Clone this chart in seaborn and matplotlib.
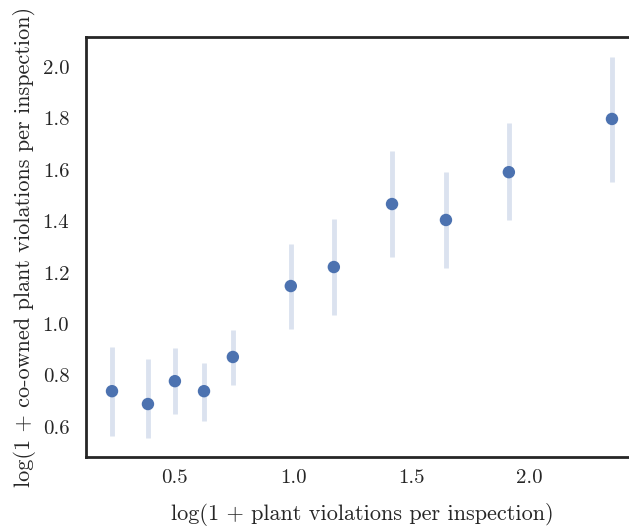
import matplotlib
matplotlib.use("Agg")
import matplotlib.pyplot as plt
import seaborn as sns
import pandas as pd

# Binned means of co-owned plant violations with confidence intervals
bin_centers = [0.234, 0.386, 0.500, 0.623, 0.745, 0.990, 1.172, 1.418, 1.646, 1.912, 2.348]
bin_means = [0.739, 0.689, 0.778, 0.739, 0.872, 1.148, 1.222, 1.467, 1.405, 1.591, 1.798]
ci_low = [0.564, 0.556, 0.650, 0.623, 0.763, 0.981, 1.035, 1.261, 1.218, 1.405, 1.553]
ci_high = [0.911, 0.864, 0.907, 0.848, 0.977, 1.311, 1.409, 1.673, 1.591, 1.782, 2.039]

x_ticks = [0.5, 1.0, 1.5, 2.0]
y_ticks = [0.6, 0.8, 1.0, 1.2, 1.4, 1.6, 1.8, 2.0]

sns.set_theme(style="white")
plt.rcParams["font.family"] = ["cmr10", "DejaVu Serif"]
plt.rcParams["mathtext.fontset"] = "cm"
plt.rcParams["axes.formatter.use_mathtext"] = True
plt.rcParams["axes.unicode_minus"] = False

df = pd.DataFrame({"x": bin_centers, "y": bin_means, "lo": ci_low, "hi": ci_high})

fig = plt.figure(figsize=(6.29, 5.28), dpi=100)
ax = fig.add_axes([0.1367, 0.1345, 0.8776, 0.7955])

color = sns.color_palette("deep")[0]
ax.vlines(df["x"], df["lo"], df["hi"], color=color, alpha=0.2, linewidth=3.5, zorder=1)
sns.scatterplot(data=df, x="x", y="y", color=color, s=80, edgecolor="none",
                ax=ax, zorder=2)

ax.set_xlim(0.124, 2.458)
ax.set_ylim(0.483, 2.117)
ax.set_xticks(x_ticks)
ax.set_yticks(y_ticks)
ax.set_xticklabels([f"{v:.1f}" for v in x_ticks])
ax.set_yticklabels([f"{v:.1f}" for v in y_ticks])
ax.tick_params(axis="both", labelsize=15, length=0, labelcolor="#262626")
ax.tick_params(axis="x", pad=9)
ax.tick_params(axis="y", pad=12)
ax.set_xlabel("log(1 + plant violations per inspection)", fontsize=16,
              labelpad=11, color="#262626")
ax.set_ylabel("log(1 + co-owned plant violations per inspection)", fontsize=16,
              labelpad=5, color="#262626")

for sp in ax.spines.values():
    sp.set_color("#262626")
    sp.set_linewidth(2)

fig.savefig("out.png", dpi=100)
